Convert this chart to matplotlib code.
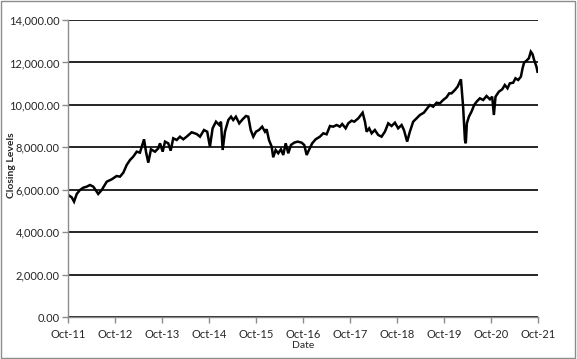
import matplotlib
matplotlib.use("Agg")
import matplotlib.pyplot as plt
import matplotlib.dates as mdates
import pandas as pd
from matplotlib.patches import Rectangle

dates = [
    "2011-10-03", "2011-10-30", "2011-11-17", "2011-12-08", "2012-01-02", "2012-01-28",
    "2012-02-23", "2012-03-20", "2012-04-15", "2012-05-23", "2012-06-19", "2012-07-28",
    "2012-09-05", "2012-10-13", "2012-11-08", "2012-12-04", "2012-12-30", "2013-01-25",
    "2013-02-19", "2013-03-18", "2013-04-12", "2013-05-14", "2013-05-29", "2013-06-16",
    "2013-07-07", "2013-08-07", "2013-09-02", "2013-09-15", "2013-10-06", "2013-10-24",
    "2013-11-18", "2013-12-07", "2013-12-27", "2014-01-23", "2014-02-17", "2014-03-15",
    "2014-04-10", "2014-05-19", "2014-06-27", "2014-07-23", "2014-08-23", "2014-09-17",
    "2014-10-08", "2014-10-29", "2014-11-24", "2014-12-20", "2015-01-02", "2015-01-15",
    "2015-02-02", "2015-02-28", "2015-03-21", "2015-04-07", "2015-04-28", "2015-05-24",
    "2015-06-19", "2015-07-15", "2015-08-02", "2015-08-21", "2015-09-10", "2015-10-01",
    "2015-10-24", "2015-11-18", "2015-12-10", "2015-12-23", "2016-01-10", "2016-01-31",
    "2016-02-12", "2016-03-02", "2016-03-22", "2016-04-12", "2016-04-30", "2016-05-19",
    "2016-06-08", "2016-06-29", "2016-07-24", "2016-08-20", "2016-09-20", "2016-10-10",
    "2016-10-29", "2016-11-18", "2016-12-11", "2017-01-07", "2017-02-09", "2017-03-07",
    "2017-04-02", "2017-04-28", "2017-05-23", "2017-06-19", "2017-07-14", "2017-08-01",
    "2017-08-28", "2017-09-17", "2017-10-13", "2017-11-03", "2017-12-04", "2018-01-07",
    "2018-01-25", "2018-02-07", "2018-02-27", "2018-03-18", "2018-04-12", "2018-05-08",
    "2018-06-03", "2018-06-29", "2018-07-25", "2018-08-20", "2018-09-15", "2018-10-10",
    "2018-11-06", "2018-11-24", "2018-12-19", "2019-01-09", "2019-02-04", "2019-03-02",
    "2019-03-28", "2019-04-28", "2019-05-24", "2019-06-14", "2019-07-09", "2019-08-05",
    "2019-08-30", "2019-09-25", "2019-10-21", "2019-11-11", "2019-11-29", "2019-12-25",
    "2020-01-15", "2020-02-02", "2020-02-10", "2020-02-27", "2020-03-12", "2020-03-19",
    "2020-03-27", "2020-04-12", "2020-05-02", "2020-05-23", "2020-06-11", "2020-07-06",
    "2020-08-01", "2020-08-27", "2020-09-22", "2020-10-10", "2020-10-23", "2020-11-05",
    "2020-12-01", "2020-12-27", "2021-01-16", "2021-02-06", "2021-02-24", "2021-03-22",
    "2021-04-09", "2021-04-30", "2021-05-21", "2021-06-03", "2021-06-15", "2021-07-04",
    "2021-07-22", "2021-08-06", "2021-08-19", "2021-09-01", "2021-09-19", "2021-09-27",
]
closing = [
    5751, 5640, 5437, 5800, 5987, 6096,
    6143, 6222, 6143, 5800, 5987, 6379,
    6490, 6647, 6615, 6803, 7165, 7401,
    7558, 7793, 7747, 8377, 7793, 7275,
    7904, 7793, 7951, 8188, 7793, 8267,
    8188, 7840, 8424, 8344, 8500, 8377,
    8500, 8707, 8627, 8500, 8815, 8735,
    8030, 8895, 9207, 9050, 9207, 7872,
    8735, 9286, 9443, 9286, 9443, 9129,
    9317, 9475, 9443, 8815, 8500, 8735,
    8815, 8971, 8735, 8848, 8344, 8030,
    7528, 7872, 7717, 7904, 7637, 8188,
    7717, 8110, 8218, 8267, 8218, 8110,
    7637, 7904, 8188, 8377, 8500, 8660,
    8612, 9003, 8971, 9050, 8971, 9098,
    8895, 9129, 9254, 9207, 9364, 9631,
    9207, 8735, 8895, 8660, 8815, 8580,
    8500, 8735, 9129, 9003, 9160, 8895,
    9050, 8815, 8267, 8735, 9207, 9364,
    9522, 9631, 9838, 9994, 9913, 10102,
    10070, 10229, 10355, 10543, 10543, 10700,
    10857, 11092, 11204, 9913, 8344, 8188,
    9129, 9443, 9678, 9994, 10150, 10308,
    10229, 10418, 10262, 10386, 9522, 10386,
    10622, 10733, 10936, 10780, 11016, 11044,
    11252, 11172, 11328, 11724, 11990, 12084,
    12196, 12508, 12398, 12115, 11799, 11563,
]
y_ticks = [0, 2000, 4000, 6000, 8000, 10000, 12000, 14000]
x_tick_dates = ["2011-10-01", "2012-10-01", "2013-10-01", "2014-10-01", "2015-10-01",
                "2016-10-01", "2017-10-01", "2018-10-01", "2019-10-01", "2020-10-01",
                "2021-10-01"]

plt.rcParams['font.family'] = ['Lato', 'DejaVu Sans']

fig = plt.figure(figsize=(5.77, 3.59), dpi=100)
fig.patch.set_facecolor('white')
fig.patches.append(Rectangle((0.002, 0.004), 0.995, 0.992, transform=fig.transFigure,
                             fill=False, edgecolor='#8c8c8c', linewidth=1.0))

ax = fig.add_axes([68/577, 1-317/359, (538-68)/577, (317-20)/359])
x = pd.to_datetime(dates)
ax.plot(x, closing, color='black', linewidth=1.8, solid_joinstyle='miter')

xt = pd.to_datetime(x_tick_dates)
ax.set_xlim(xt[0], xt[-1])
ax.set_xticks(xt)
ax.xaxis.set_major_formatter(mdates.DateFormatter('%b-%y'))
ax.set_ylim(0, 14000)
ax.set_yticks(y_ticks)
ax.set_yticklabels([f"{v:,.2f}" for v in y_ticks])

ax.yaxis.grid(True, color='black', linewidth=1.2)
ax.set_axisbelow(True)
for s in ['top', 'right']:
    ax.spines[s].set_visible(False)
for s in ['left', 'bottom']:
    ax.spines[s].set_color('#8c8c8c')
    ax.spines[s].set_linewidth(1.0)
ax.tick_params(axis='both', colors='#8c8c8c', length=4, width=1.0, labelcolor='#262626',
               labelsize=8)
ax.tick_params(axis='x', pad=5)
ax.tick_params(axis='y', pad=2)

fig.text(12/577, 1-165/359, 'Closing Levels', rotation=90, ha='center', va='center',
         fontsize=7.5, fontweight='bold', color='#262626')
fig.text(303/577, 1-346/359, 'Date', ha='center', va='center',
         fontsize=7.5, color='#262626')

fig.savefig('out.png', dpi=100)
